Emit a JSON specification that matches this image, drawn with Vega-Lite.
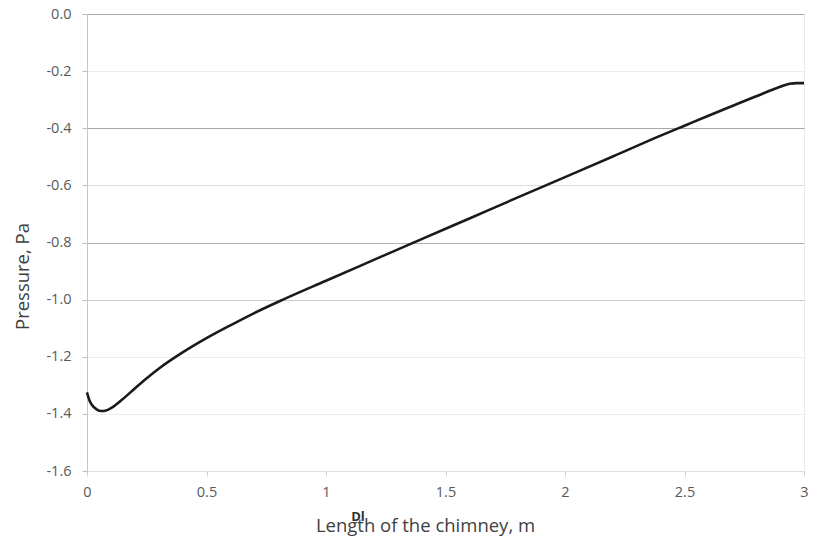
{
  "$schema": "https://vega.github.io/schema/vega-lite/v6.json",
  "width": 717,
  "height": 457,
  "autosize": {"type": "none"},
  "padding": {"left": 87, "top": 14, "right": 10, "bottom": 68},
  "background": "white",
  "config": {
    "view": {"stroke": "#ebebeb", "strokeWidth": 1},
    "font": "Open Sans"
  },
  "datasets": {
    "curve": [
      {"L": 0.0, "P": -1.325},
      {"L": 0.01, "P": -1.352},
      {"L": 0.02, "P": -1.368},
      {"L": 0.04, "P": -1.384},
      {"L": 0.06, "P": -1.39},
      {"L": 0.08, "P": -1.388},
      {"L": 0.1, "P": -1.38},
      {"L": 0.15, "P": -1.348},
      {"L": 0.2, "P": -1.311},
      {"L": 0.25, "P": -1.275},
      {"L": 0.3, "P": -1.242},
      {"L": 0.4, "P": -1.185},
      {"L": 0.5, "P": -1.135},
      {"L": 0.6, "P": -1.09},
      {"L": 0.7, "P": -1.047},
      {"L": 0.82, "P": -1.0},
      {"L": 1.0, "P": -0.934},
      {"L": 1.2, "P": -0.861},
      {"L": 1.4, "P": -0.788},
      {"L": 1.6, "P": -0.716},
      {"L": 1.8, "P": -0.643},
      {"L": 2.0, "P": -0.571},
      {"L": 2.2, "P": -0.499},
      {"L": 2.4, "P": -0.426},
      {"L": 2.5, "P": -0.391},
      {"L": 2.6, "P": -0.356},
      {"L": 2.7, "P": -0.322},
      {"L": 2.8, "P": -0.288},
      {"L": 2.9, "P": -0.255},
      {"L": 2.94, "P": -0.244},
      {"L": 2.97, "P": -0.242},
      {"L": 3.0, "P": -0.242}
    ],
    "stray": [{"L": 1.134, "P": -1.76, "t": "Dl"}]
  },
  "layer": [
    {
      "data": {"name": "curve"},
      "mark": {"type": "line", "color": "#1a1a1a", "strokeWidth": 2.6, "interpolate": "monotone", "clip": false},
      "encoding": {
        "x": {
          "field": "L", "type": "quantitative",
          "scale": {"domain": [0, 3], "nice": false, "zero": false},
          "axis": {
            "title": "Length of the chimney, m",
            "titleFont": "Open Sans", "titleFontSize": 18.5, "titleFontWeight": "normal", "titleColor": "#404040",
            "titleX": 338, "titleY": 60, "titleBaseline": "alphabetic",
            "values": [0, 0.5, 1, 1.5, 2, 2.5, 3],
            "labelExpr": "datum.value",
            "labelFont": "Open Sans", "labelFontSize": 14.5, "labelColor": "#595959",
            "labelFlush": false, "labelOverlap": false,
            "labelPadding": 9, "tickSize": 5, "tickColor": "#d0d0d0",
            "domain": false, "grid": false
          }
        },
        "y": {
          "field": "P", "type": "quantitative",
          "scale": {"domain": [-1.6, 0], "nice": false, "zero": false},
          "axis": {
            "title": "Pressure, Pa",
            "titleFont": "Open Sans", "titleFontSize": 18.5, "titleFontWeight": "normal", "titleColor": "#404040",
            "titleX": -59, "titleY": 262, "titleAngle": -90, "titleBaseline": "alphabetic",
            "values": [0, -0.2, -0.4, -0.6, -0.8, -1.0, -1.2, -1.4, -1.6],
            "labelExpr": "replace(format(datum.value, '.1f'), '\u2212', '-')",
            "labelFont": "Open Sans", "labelFontSize": 14.5, "labelColor": "#595959",
            "labelFlush": false, "labelOverlap": false,
            "labelPadding": 11, "tickSize": 5, "tickColor": "#bdbdbd",
            "domain": true, "domainColor": "#c4c4c4",
            "grid": true,
            "gridColor": {
              "condition": [
                {"test": "datum.value === 0 || datum.value === -0.4", "value": "#a8a8a8"},
                {"test": "datum.value === -0.8", "value": "#b2b2b2"},
                {"test": "datum.value === -1", "value": "#c9c9c9"},
                {"test": "datum.value === -0.6 || datum.value === -1.6", "value": "#dedede"}
              ],
              "value": "#ededed"
            }
          }
        }
      }
    },
    {
      "data": {"name": "stray"},
      "mark": {"type": "text", "font": "Open Sans", "fontSize": 13, "fontWeight": "bold", "color": "#333333", "clip": false, "baseline": "middle", "align": "center"},
      "encoding": {
        "x": {"field": "L", "type": "quantitative"},
        "y": {"field": "P", "type": "quantitative"},
        "text": {"field": "t"}
      }
    }
  ]
}
